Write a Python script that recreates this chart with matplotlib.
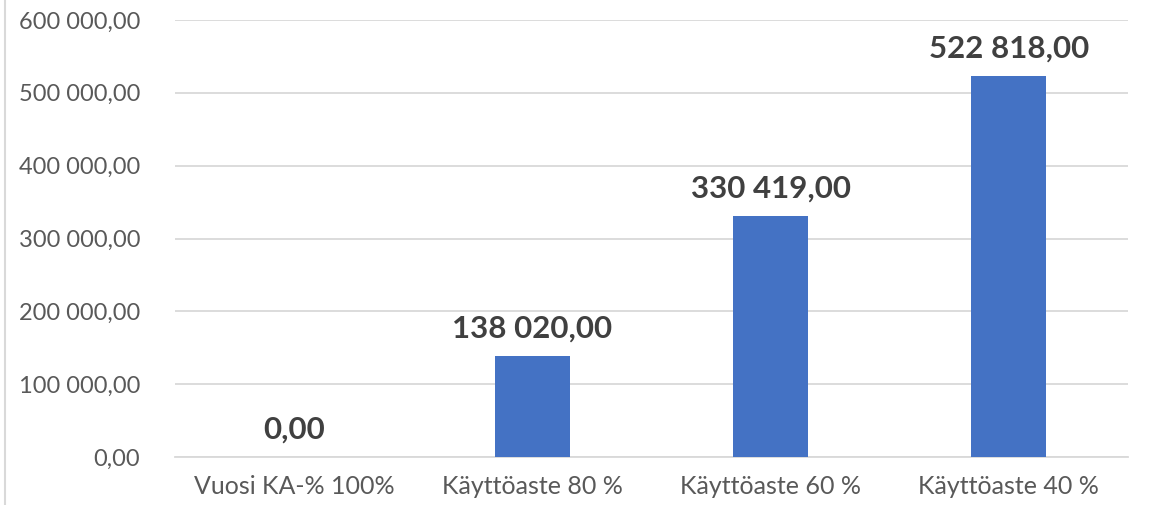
import matplotlib.pyplot as plt
from matplotlib.lines import Line2D

plt.rcParams['font.family'] = ['Lato', 'DejaVu Sans']

categories = ['Vuosi KA-% 100%', 'Käyttöaste 80 %', 'Käyttöaste 60 %', 'Käyttöaste 40 %']
values = [0.00, 138020.00, 330419.00, 522818.00]
yticks = [0, 100000, 200000, 300000, 400000, 500000, 600000]


def fi_fmt(v):
    # suomalainen muoto: välilyönti tuhaterottimena, pilkku desimaalina
    s = f'{v:,.2f}'
    return s.replace(',', ' ').replace('.', ',')


fig = plt.figure(figsize=(11.52, 5.05), dpi=100)
ax = fig.add_axes([175 / 1152, 1 - 457 / 505, 953 / 1152, 437 / 505])

x = range(len(categories))
ax.bar(x, values, width=0.315, color='#4472C4', zorder=3)

for xi, v in zip(x, values):
    ax.annotate(fi_fmt(v), (xi, v), xytext=(0, 10), textcoords='offset points',
                ha='center', va='bottom', fontsize=22.5, fontweight='bold',
                color='#404040')

ax.set_xlim(-0.5, len(categories) - 0.5)
ax.set_ylim(0, 600000)
ax.set_yticks(yticks)
ax.set_yticklabels([fi_fmt(t) for t in yticks])
ax.set_xticks(list(x))
ax.set_xticklabels(categories)
ax.tick_params(axis='y', length=0, pad=25, labelsize=17, labelcolor='#595959')
ax.tick_params(axis='x', length=0, pad=13, labelsize=18, labelcolor='#595959')

ax.grid(axis='y', color='#D9D9D9', linewidth=1.3, zorder=0)
for sp in ['top', 'right', 'left']:
    ax.spines[sp].set_visible(False)
ax.spines['bottom'].set_color('#D9D9D9')
ax.spines['bottom'].set_linewidth(1.3)

# kaavioalueen reunaviiva vasemmalla
fig.add_artist(Line2D([5 / 1152, 5 / 1152], [0, 1], color='#D9D9D9', linewidth=1.5))

fig.savefig('out.png', dpi=100)
